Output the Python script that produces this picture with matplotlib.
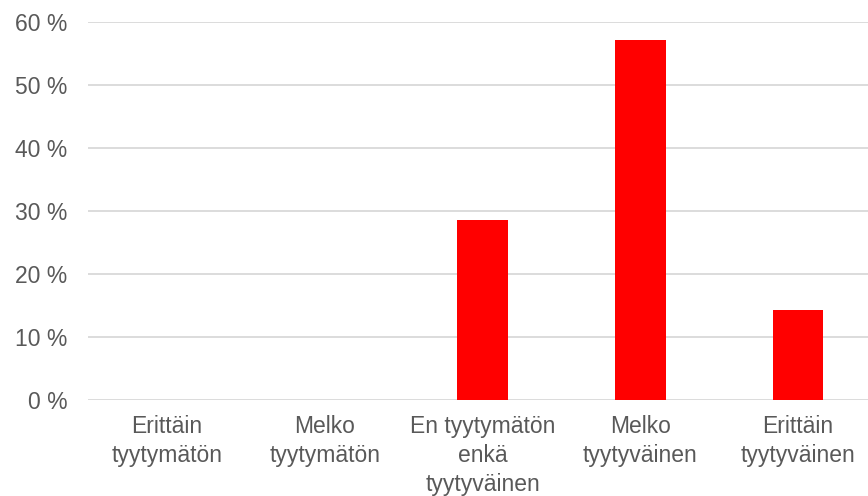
import matplotlib.pyplot as plt
from matplotlib.ticker import FuncFormatter

categories = ["Erittäin\ntyytymätön", "Melko\ntyytymätön", "En tyytymätön\nenkä\ntyytyväinen",
              "Melko\ntyytyväinen", "Erittäin\ntyytyväinen"]
values = [0, 0, 28.57, 57.14, 14.29]
yticks = [0, 10, 20, 30, 40, 50, 60]

plt.rcParams['font.family'] = ['Liberation Sans', 'DejaVu Sans']
txt = "#595959"

fig = plt.figure(figsize=(8.68, 4.96), dpi=100)
ax = fig.add_axes([0.1014, 0.1935, 0.8986, 0.7621])
x = list(range(len(categories)))
ax.bar(x, values, width=0.32, color="#ff0000", zorder=3)

ax.set_ylim(0, 60)
ax.set_xlim(-0.5, 4.443)
ax.set_yticks(yticks)
ax.yaxis.set_major_formatter(FuncFormatter(lambda v, p: f"{int(v)} %"))
ax.set_xticks(x)
ax.set_xticklabels(categories, linespacing=1.33)
ax.grid(axis="y", color="#d9d9d9", linewidth=1.3, zorder=0)
for s in ax.spines.values():
    s.set_visible(False)
ax.tick_params(axis="both", length=0, labelsize=16.5, colors=txt)
ax.tick_params(axis="y", pad=15)
ax.tick_params(axis="x", pad=11)

fig.savefig("out.png", dpi=100)
